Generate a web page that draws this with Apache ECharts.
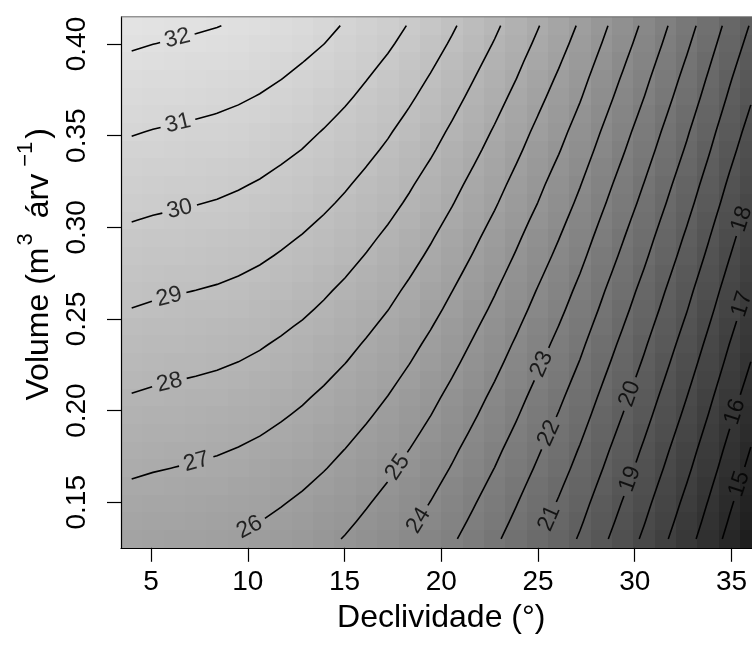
<!DOCTYPE html>
<html><head><meta charset="utf-8">
<script src="https://cdn.jsdelivr.net/npm/echarts@6/dist/echarts.min.js"></script>
<style>html,body{margin:0;padding:0;background:#fff}#c{width:752px;height:655px}</style>
</head><body><div id="c"></div>
<script>
// ---- data ----
const xs = [4.000, 5.103, 6.207, 7.310, 8.414, 9.517, 10.621, 11.724, 12.828, 13.931, 15.034, 16.138, 17.241, 18.345, 19.448, 20.552, 21.655, 22.759, 23.862, 24.966, 26.069, 27.172, 28.276, 29.379, 30.483, 31.586, 32.690, 33.793, 34.897, 36.000];
const ys = [0.1300, 0.1397, 0.1493, 0.1590, 0.1686, 0.1783, 0.1879, 0.1976, 0.2072, 0.2169, 0.2266, 0.2362, 0.2459, 0.2555, 0.2652, 0.2748, 0.2845, 0.2941, 0.3038, 0.3134, 0.3231, 0.3328, 0.3424, 0.3521, 0.3617, 0.3714, 0.3810, 0.3907, 0.4003, 0.4100];
// zGrid[j][i] = value at (xs[i], ys[j])
const zGrid = [
[26.30,26.22,26.16,26.10,26.03,25.93,25.80,25.63,25.44,25.21,24.95,24.65,24.33,23.96,23.56,23.12,22.65,22.16,21.63,21.07,20.51,19.90,19.22,18.54,17.84,17.10,16.35,15.55,14.72,13.93],
[26.51,26.43,26.37,26.31,26.24,26.14,26.01,25.84,25.65,25.42,25.16,24.86,24.54,24.17,23.77,23.33,22.86,22.37,21.84,21.28,20.72,20.11,19.43,18.75,18.05,17.31,16.56,15.76,14.93,14.14],
[26.71,26.63,26.57,26.51,26.44,26.34,26.21,26.04,25.85,25.62,25.36,25.06,24.74,24.37,23.97,23.53,23.06,22.57,22.04,21.48,20.92,20.31,19.63,18.95,18.25,17.51,16.76,15.96,15.13,14.34],
[26.92,26.84,26.78,26.72,26.65,26.55,26.42,26.25,26.06,25.83,25.57,25.27,24.95,24.58,24.18,23.74,23.27,22.78,22.25,21.69,21.13,20.52,19.84,19.16,18.46,17.72,16.97,16.17,15.34,14.55],
[27.13,27.05,26.99,26.93,26.86,26.76,26.63,26.46,26.27,26.04,25.78,25.48,25.16,24.79,24.39,23.95,23.48,22.99,22.46,21.90,21.34,20.73,20.05,19.37,18.67,17.93,17.18,16.38,15.55,14.76],
[27.33,27.25,27.19,27.13,27.06,26.96,26.83,26.66,26.47,26.24,25.98,25.68,25.36,24.99,24.59,24.15,23.68,23.19,22.66,22.10,21.54,20.93,20.25,19.57,18.87,18.13,17.38,16.58,15.75,14.96],
[27.54,27.46,27.40,27.34,27.27,27.17,27.04,26.87,26.68,26.45,26.19,25.89,25.57,25.20,24.80,24.36,23.89,23.40,22.87,22.31,21.75,21.14,20.46,19.78,19.08,18.34,17.59,16.79,15.96,15.17],
[27.75,27.67,27.61,27.55,27.48,27.38,27.25,27.08,26.89,26.66,26.40,26.10,25.78,25.41,25.01,24.57,24.10,23.61,23.08,22.52,21.96,21.35,20.67,19.99,19.29,18.55,17.80,17.00,16.17,15.38],
[27.95,27.87,27.81,27.75,27.68,27.58,27.45,27.28,27.09,26.86,26.60,26.30,25.98,25.61,25.21,24.77,24.30,23.81,23.28,22.72,22.16,21.55,20.87,20.19,19.49,18.75,18.00,17.20,16.37,15.58],
[28.16,28.08,28.02,27.96,27.89,27.79,27.66,27.49,27.30,27.07,26.81,26.51,26.19,25.82,25.42,24.98,24.51,24.02,23.49,22.93,22.37,21.76,21.08,20.40,19.70,18.96,18.21,17.41,16.58,15.79],
[28.37,28.29,28.23,28.17,28.10,28.00,27.87,27.70,27.51,27.28,27.02,26.72,26.40,26.03,25.63,25.19,24.72,24.23,23.70,23.14,22.58,21.97,21.29,20.61,19.91,19.17,18.42,17.62,16.79,16.00],
[28.57,28.49,28.43,28.37,28.30,28.20,28.07,27.90,27.71,27.48,27.22,26.92,26.60,26.23,25.83,25.39,24.92,24.43,23.90,23.34,22.78,22.17,21.49,20.81,20.11,19.37,18.62,17.82,16.99,16.20],
[28.78,28.70,28.64,28.58,28.51,28.41,28.28,28.11,27.92,27.69,27.43,27.13,26.81,26.44,26.04,25.60,25.13,24.64,24.11,23.55,22.99,22.38,21.70,21.02,20.32,19.58,18.83,18.03,17.20,16.41],
[28.99,28.91,28.85,28.79,28.72,28.62,28.49,28.32,28.13,27.90,27.64,27.34,27.02,26.65,26.25,25.81,25.34,24.85,24.32,23.76,23.20,22.59,21.91,21.23,20.53,19.79,19.04,18.24,17.41,16.62],
[29.19,29.11,29.05,28.99,28.92,28.82,28.69,28.52,28.33,28.10,27.84,27.54,27.22,26.85,26.45,26.01,25.54,25.05,24.52,23.96,23.40,22.79,22.11,21.43,20.73,19.99,19.24,18.44,17.61,16.82],
[29.40,29.32,29.26,29.20,29.13,29.03,28.90,28.73,28.54,28.31,28.05,27.75,27.43,27.06,26.66,26.22,25.75,25.26,24.73,24.17,23.61,23.00,22.32,21.64,20.94,20.20,19.45,18.65,17.82,17.03],
[29.61,29.53,29.47,29.41,29.34,29.24,29.11,28.94,28.75,28.52,28.26,27.96,27.64,27.27,26.87,26.43,25.96,25.47,24.94,24.38,23.82,23.21,22.53,21.85,21.15,20.41,19.66,18.86,18.03,17.24],
[29.81,29.73,29.67,29.61,29.54,29.44,29.31,29.14,28.95,28.72,28.46,28.16,27.84,27.47,27.07,26.63,26.16,25.67,25.14,24.58,24.02,23.41,22.73,22.05,21.35,20.61,19.86,19.06,18.23,17.44],
[30.02,29.94,29.88,29.82,29.75,29.65,29.52,29.35,29.16,28.93,28.67,28.37,28.05,27.68,27.28,26.84,26.37,25.88,25.35,24.79,24.23,23.62,22.94,22.26,21.56,20.82,20.07,19.27,18.44,17.65],
[30.23,30.15,30.09,30.03,29.96,29.86,29.73,29.56,29.37,29.14,28.88,28.58,28.26,27.89,27.49,27.05,26.58,26.09,25.56,25.01,24.44,23.83,23.15,22.47,21.77,21.03,20.28,19.48,18.65,17.86],
[30.43,30.35,30.29,30.23,30.16,30.06,29.93,29.76,29.57,29.34,29.08,28.78,28.46,28.09,27.69,27.25,26.78,26.29,25.76,25.20,24.64,24.03,23.35,22.67,21.97,21.23,20.48,19.68,18.85,18.06],
[30.64,30.56,30.50,30.44,30.37,30.27,30.14,29.97,29.78,29.55,29.29,28.99,28.67,28.30,27.90,27.46,26.99,26.50,25.97,25.41,24.85,24.24,23.56,22.88,22.18,21.44,20.69,19.89,19.06,18.27],
[30.85,30.77,30.71,30.65,30.58,30.48,30.35,30.18,29.99,29.76,29.50,29.20,28.88,28.51,28.11,27.67,27.20,26.71,26.18,25.62,25.06,24.45,23.77,23.09,22.39,21.65,20.90,20.10,19.27,18.48],
[31.05,30.97,30.91,30.85,30.78,30.68,30.55,30.38,30.19,29.96,29.70,29.40,29.08,28.71,28.31,27.87,27.40,26.91,26.38,25.82,25.26,24.65,23.97,23.29,22.59,21.85,21.10,20.30,19.47,18.68],
[31.26,31.18,31.12,31.06,30.99,30.89,30.76,30.59,30.40,30.17,29.91,29.61,29.29,28.92,28.52,28.08,27.61,27.12,26.59,26.03,25.47,24.86,24.18,23.50,22.80,22.06,21.31,20.51,19.68,18.89],
[31.47,31.39,31.33,31.27,31.20,31.10,30.97,30.80,30.61,30.38,30.12,29.82,29.50,29.13,28.73,28.29,27.82,27.33,26.80,26.24,25.68,25.07,24.39,23.71,23.01,22.27,21.52,20.72,19.89,19.10],
[31.67,31.59,31.53,31.47,31.40,31.30,31.17,31.01,30.81,30.58,30.32,30.02,29.70,29.33,28.93,28.49,28.02,27.53,27.01,26.44,25.88,25.27,24.59,23.91,23.21,22.47,21.72,20.92,20.09,19.30],
[31.88,31.80,31.74,31.68,31.61,31.51,31.38,31.21,31.02,30.79,30.53,30.23,29.91,29.54,29.14,28.70,28.23,27.74,27.21,26.65,26.09,25.48,24.80,24.12,23.42,22.68,21.93,21.13,20.30,19.51],
[32.09,32.01,31.95,31.89,31.82,31.72,31.59,31.42,31.23,31.01,30.74,30.44,30.12,29.75,29.35,28.91,28.44,27.95,27.42,26.86,26.30,25.69,25.01,24.33,23.63,22.89,22.14,21.34,20.51,19.72],
[32.29,32.21,32.15,32.09,32.02,31.92,31.79,31.62,31.43,31.20,30.94,30.64,30.32,29.95,29.55,29.11,28.64,28.15,27.62,27.06,26.50,25.89,25.21,24.53,23.83,23.09,22.35,21.55,20.72,19.93]
];
const levels = [15,16,17,18,19,20,21,22,23,24,25,26,27,28,29,30,31,32];
// [level, x, y] where each contour label sits
const labelSpots = [[32,6.41,0.4011],[31,6.41,0.3558],[30,6.50,0.3090],[29,5.98,0.2602],[28,5.98,0.2140],[27,7.39,0.1703],[26,10.12,0.1358],[25,17.96,0.1676],[24,19.07,0.1385],[23,25.45,0.2241],[22,25.88,0.1862],[21,25.79,0.1403],[20,29.91,0.2085],[19,29.86,0.1622],[18,35.36,0.3051],[17,35.36,0.2587],[16,35.20,0.1993],[15,35.25,0.1605]];
const xTicks = [5,10,15,20,25,30,35];
const yTicks = [0.15,0.20,0.25,0.30,0.35,0.40];

// ---- layout ----
const FONT = '"Liberation Sans", Arial, Helvetica, sans-serif';
const G = {left:121, top:16.8, width:640.5, height:531};
const nx = xs.length, ny = ys.length;
const ddx = (xs[nx-1]-xs[0])/(nx-1), ddy = (ys[ny-1]-ys[0])/(ny-1);
const xMin = xs[0]-ddx/2, xMax = xs[nx-1]+ddx/2, yMin = ys[0]-ddy/2, yMax = ys[ny-1]+ddy/2;
// cell edges halfway between neighbouring grid positions
const xEdges = [xMin], yEdges = [yMin];
for (let i=1;i<nx;i++) xEdges.push((xs[i-1]+xs[i])/2); xEdges.push(xMax);
for (let j=1;j<ny;j++) yEdges.push((ys[j-1]+ys[j])/2); yEdges.push(yMax);
function toPx(p){ return [G.left+(p[0]-xMin)/(xMax-xMin)*G.width, G.top+(yMax-p[1])/(yMax-yMin)*G.height]; }
function pxLen(l){ let s=0; for(let k=1;k<l.length;k++){ const a=toPx(l[k-1]), b=toPx(l[k]); s+=Math.hypot(b[0]-a[0],b[1]-a[1]); } return s; }

const cellData = [];
for (let j=0;j<ny;j++) for (let i=0;i<nx;i++) cellData.push([xs[i],ys[j],zGrid[j][i],i,j]);

function contourLines(L){
  const pts = {}, segs = [];
  function ep(k,x1,y1,v1,x2,y2,v2){ if(!(k in pts)){ const t=(L-v1)/(v2-v1); pts[k]=[x1+t*(x2-x1), y1+t*(y2-y1)]; } return k; }
  for (let j=0;j<ny-1;j++) for (let i=0;i<nx-1;i++){
    const v00=zGrid[j][i], v10=zGrid[j][i+1], v11=zGrid[j+1][i+1], v01=zGrid[j+1][i];
    const a=[v00>=L, v10>=L, v11>=L, v01>=L];
    const x0=xs[i], x1=xs[i+1], y0=ys[j], y1=ys[j+1];
    const E={};
    if (a[0]!==a[1]) E.b=ep('h'+i+'_'+j, x0,y0,v00, x1,y0,v10);
    if (a[1]!==a[2]) E.r=ep('v'+(i+1)+'_'+j, x1,y0,v10, x1,y1,v11);
    if (a[3]!==a[2]) E.t=ep('h'+i+'_'+(j+1), x0,y1,v01, x1,y1,v11);
    if (a[0]!==a[3]) E.l=ep('v'+i+'_'+j, x0,y0,v00, x0,y1,v01);
    const ks=Object.keys(E);
    if (ks.length===2) segs.push([E[ks[0]],E[ks[1]]]);
    else if (ks.length===4){
      const c=(v00+v10+v11+v01)/4>=L;
      if (a[0]!==c) segs.push([E.l,E.b]);
      if (a[1]!==c) segs.push([E.b,E.r]);
      if (a[2]!==c) segs.push([E.r,E.t]);
      if (a[3]!==c) segs.push([E.t,E.l]);
    }
  }
  const adj={};
  segs.forEach((s,idx)=>{ (adj[s[0]]=adj[s[0]]||[]).push(idx); (adj[s[1]]=adj[s[1]]||[]).push(idx); });
  const used=new Array(segs.length).fill(false);
  const lines=[];
  function walk(k0,s0){
    const chain=[k0]; let cur=k0, si=s0;
    while(si!==undefined){
      used[si]=true; const s=segs[si]; const nk=s[0]===cur?s[1]:s[0];
      chain.push(nk); cur=nk;
      si=(adj[cur]||[]).find(q=>!used[q]);
    }
    return chain.map(k=>pts[k]);
  }
  Object.keys(adj).forEach(k=>{ if(adj[k].length===1 && !used[adj[k][0]]) lines.push(walk(k,adj[k][0])); });
  segs.forEach((s,idx)=>{ if(!used[idx]) lines.push(walk(s[0],idx)); });
  return lines;
}

const LABEL_FS = 23;
const allLines = [];
const labelItems = [];
levels.forEach(L=>{
  let lines = contourLines(L);
  labelSpots.filter(s=>s[0]===L).forEach(s=>{
    const P=toPx([s[1],s[2]]);
    let best=null;
    lines.forEach((ln,li)=>{
      const px=ln.map(toPx);
      for(let k=0;k<px.length-1;k++){
        const A=px[k],B=px[k+1]; const vx=B[0]-A[0], vy=B[1]-A[1];
        const l2=vx*vx+vy*vy||1e-9;
        let t=((P[0]-A[0])*vx+(P[1]-A[1])*vy)/l2; t=Math.max(0,Math.min(1,t));
        const Q=[A[0]+t*vx,A[1]+t*vy]; const d=Math.hypot(Q[0]-P[0],Q[1]-P[1]);
        if(!best||d<best.d) best={d,li,k,t};
      }
    });
    if(!best) return;
    const ln=lines[best.li]; const px=ln.map(toPx);
    const cum=[0]; for(let k=1;k<px.length;k++) cum.push(cum[k-1]+Math.hypot(px[k][0]-px[k-1][0],px[k][1]-px[k-1][1]));
    const s0=cum[best.k]+best.t*(cum[best.k+1]-cum[best.k]);
    const txt=String(L);
    const h=txt.length*0.556*LABEL_FS/2+5;
    function at(s){
      s=Math.max(0,Math.min(cum[cum.length-1],s));
      let k=0; while(k<cum.length-2 && cum[k+1]<s) k++;
      const seg=(cum[k+1]-cum[k])||1e-9; const f=(s-cum[k])/seg;
      return [ln[k][0]+f*(ln[k+1][0]-ln[k][0]), ln[k][1]+f*(ln[k+1][1]-ln[k][1])];
    }
    const pA=at(s0-h), pB=at(s0+h), pC=at(s0);
    const qa=toPx(pA), qb=toPx(pB);
    let ang=Math.atan2(-(qb[1]-qa[1]), qb[0]-qa[0])*180/Math.PI;
    if(ang>90) ang-=180; if(ang<=-90) ang+=180;
    const p1=[], p2=[];
    for(let k=0;k<ln.length;k++){ if(cum[k]<s0-h) p1.push(ln[k]); }
    if(s0-h>0) p1.push(pA);
    if(s0+h<cum[cum.length-1]) p2.push(pB);
    for(let k=0;k<ln.length;k++){ if(cum[k]>s0+h) p2.push(ln[k]); }
    const repl=[p1,p2].filter(p=>p.length>1 && pxLen(p)>14);
    lines.splice(best.li,1,...repl);
    labelItems.push({value:pC, label:{rotate:ang, formatter:txt}});
  });
  lines.forEach(l=>allLines.push(l));
});

const chart = echarts.init(document.getElementById('c'), null, {renderer:'canvas'});
const axisText = {color:'#000', fontSize:28, fontFamily:FONT};
const titleText = {color:'#000', fontSize:32, fontFamily:FONT};
chart.setOption({
  animation:false,
  backgroundColor:'#ffffff',
  grid:{left:G.left, top:G.top, width:G.width, height:G.height, containLabel:false, outerBoundsMode:'none'},
  visualMap:{show:false, type:'continuous', seriesIndex:0, dimension:2, min:13.9, max:32.3,
    inRange:{color:['#1e1e1e','#e3e3e3']}},
  xAxis:{type:'value', min:xMin, max:xMax, position:'bottom', z:10,
     axisLine:{show:true, onZero:false, lineStyle:{color:'#000', width:1.2}},
     axisTick:{show:true, customValues:xTicks, length:14, lineStyle:{color:'#000', width:1.2}},
     axisLabel:Object.assign({customValues:xTicks, margin:20}, axisText),
     splitLine:{show:false},
     name:'Declividade (°)', nameLocation:'middle', nameGap:54,
     nameTextStyle:Object.assign({}, titleText)},
  yAxis:{type:'value', min:yMin, max:yMax, position:'left', z:10,
     axisLine:{show:true, onZero:false, lineStyle:{color:'#000', width:1.2}},
     axisTick:{show:true, customValues:yTicks, length:14, lineStyle:{color:'#000', width:1.2}},
     axisLabel:Object.assign({customValues:yTicks, margin:30, rotate:90, formatter:v=>v.toFixed(2)}, axisText),
     splitLine:{show:false},
     name:'{a|Volume (m}{s|3}{b|árv}{t|−1}{a|)}', nameLocation:'middle', nameRotate:90, nameGap:66,
     nameTextStyle:{color:'#000', fontFamily:FONT, padding:[0,0,0,36], rich:{
       a:{fontSize:32, fontFamily:FONT, color:'#000', lineHeight:38, verticalAlign:'bottom'},
       b:{fontSize:32, fontFamily:FONT, color:'#000', lineHeight:38, verticalAlign:'bottom', padding:[0,0,0,13]},
       s:{fontSize:22, fontFamily:FONT, color:'#000', lineHeight:22, verticalAlign:'bottom', padding:[0,2,18,2]},
       t:{fontSize:22, fontFamily:FONT, color:'#000', lineHeight:22, verticalAlign:'bottom', padding:[0,3,18,7]}
     }}},
  graphic:[{type:'line', z:100, shape:{x1:G.left, y1:G.top, x2:G.left+G.width, y2:G.top}, style:{stroke:'#666', lineWidth:1}}],
  series:[
    {type:'custom', data:cellData, silent:true, z:1,
     renderItem:function(params, api){
       const i=api.value(3), j=api.value(4);
       const p0=api.coord([xEdges[i], yEdges[j+1]]), p1=api.coord([xEdges[i+1], yEdges[j]]);
       const x0=Math.round(p0[0]), y0=Math.round(p0[1]), x1=Math.round(p1[0]), y1=Math.round(p1[1]);
       return {type:'rect', shape:{x:x0, y:y0, width:x1-x0, height:y1-y0}, style:{fill:api.visual('color'), stroke:null}};
     }},
    {type:'lines', coordinateSystem:'cartesian2d', polyline:true, silent:true, z:3,
     lineStyle:{color:'#000', width:1.6, opacity:1}, data:allLines.map(c=>({coords:c}))},
    {type:'scatter', symbolSize:1, silent:true, z:4,
     itemStyle:{color:'rgba(0,0,0,0)'},
     label:{show:true, position:'inside', color:'#000', fontSize:LABEL_FS, fontFamily:FONT},
     data:labelItems}
  ]
});
</script></body></html>
